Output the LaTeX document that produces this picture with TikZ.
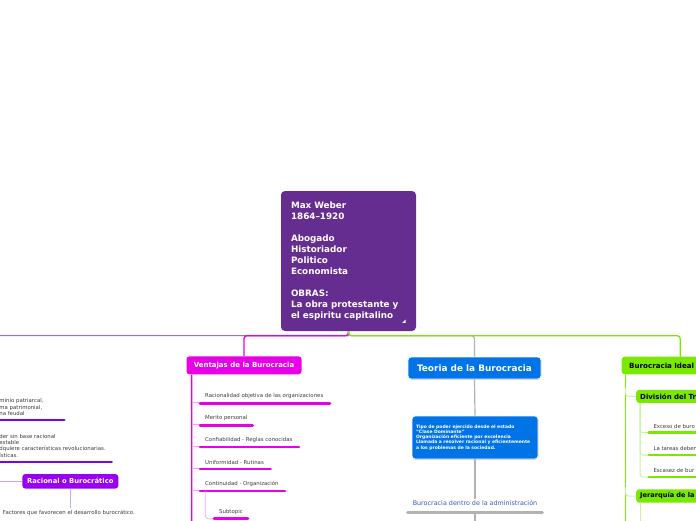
\documentclass[tikz,border=0pt]{standalone}
\usepackage{fontspec}
\setmainfont{DejaVu Sans}
\usetikzlibrary{calc,shadows}
\definecolor{wpurple}{RGB}{102,45,145}
\definecolor{wmag}{RGB}{232,0,232}
\definecolor{wmaglight}{RGB}{245,160,245}
\definecolor{wblue}{RGB}{0,115,230}
\definecolor{wgray}{RGB}{178,178,178}
\definecolor{wgreen}{RGB}{122,232,0}
\definecolor{wgreenlight}{RGB}{200,245,160}
\definecolor{wviolet}{RGB}{122,0,255}
\definecolor{wviobox}{RGB}{153,0,240}
\definecolor{wviolight}{RGB}{200,168,240}
\definecolor{wleft}{RGB}{160,112,200}
\definecolor{txtgray}{RGB}{60,60,60}
\definecolor{linkblue}{RGB}{51,85,204}
\tikzset{
  mainbox/.style={fill=wpurple, rounded corners=4pt, text=white,
    font=\bfseries\fontsize{8.8}{11}\selectfont, align=left, inner sep=0pt,
    minimum width=135pt, minimum height=140pt, text width=115pt},
  topicbox/.style={rounded corners=3pt, inner sep=0pt, font=\bfseries\fontsize{7}{8}\selectfont},
  item/.style={anchor=west, inner sep=0pt, text=txtgray, font=\fontsize{5.4}{6.5}\selectfont},
  magline/.style={draw=wmag, line width=1.3pt},
  magthin/.style={draw=wmaglight, line width=0.8pt},
  magbar/.style={draw=wmag, line width=2.6pt, line cap=round},
  grayline/.style={draw=wgray, line width=1.2pt},
  greenline/.style={draw=wgreen, line width=1.3pt},
  greenthin/.style={draw=wgreenlight, line width=1pt},
  greenbar/.style={draw=wgreen, line width=2.6pt, line cap=round},
  viobar/.style={draw=wviolet, line width=2.6pt, line cap=round},
}
\begin{document}
\begin{tikzpicture}[x=1pt,y=-1pt]
\useasboundingbox (0,0) rectangle (696,520);
\clip (0,0) rectangle (696,520);

% ---------------- central node
\node[mainbox] (weber) at (348.5,261) {Max Weber\\1864–1920\\[11pt]Abogado\\Historiador\\Politico\\Economista\\[11pt]OBRAS:\\La obra protestante y\\el espiritu capitalino};
\fill[white] (405.5,319.5) -- (405.5,322.8) -- (402.2,322.8) -- cycle;

% ---------------- main topic nodes
\node[topicbox, fill=wmag, text=white, minimum width=115pt, minimum height=18pt] (ventajas) at (244,365.3) {Ventajas de la Burocracia};
\node[topicbox, fill=wblue, text=white, draw=white, line width=0.8pt, minimum width=133pt, minimum height=22pt,
  font=\bfseries\fontsize{8.9}{10}\selectfont, drop shadow={shadow xshift=0.4pt, shadow yshift=-0.9pt, opacity=0.35}] (teoria) at (474.5,368) {Teoria de la Burocracia};
\node[topicbox, fill=wgreen, text=black, anchor=west, text width=102pt, inner xsep=7.5pt, align=left, minimum height=17.6pt,
  font=\bfseries\fontsize{7.1}{8.5}\selectfont] (ideal) at (621.5,365.5) {Burocracia Ideal};
\coordinate (leftend) at (-5,335.5);

% ---------------- top connectors
\draw[draw=wleft, line width=1.2pt] (weber.south) -- ++(0,4.5) -- (leftend);
\draw[grayline, rounded corners=3pt] (weber.south) -- ++(0,4.5) -| (teoria.north);
\draw[magline, rounded corners=3pt] (weber.south) -- ++(0,4.5) -| (ventajas.north);
\draw[greenline, rounded corners=3pt] (weber.south) -- ++(0,4.5) -| (ideal.north);

% ---------------- Ventajas branch
\coordinate (vbot) at (191.8,525);
\draw[magline] ([xshift=5.3pt]ventajas.south west) -- (vbot);
\node[item] (v1) at (205,396) {Racionalidad objetiva de las organizaciones};
\node[item] (v2) at (205,418) {Merito personal};
\node[item] (v3) at (205,440) {Confiabilidad - Reglas conocidas};
\node[item] (v4) at (205,462) {Uniformidad - Rutinas};
\node[item] (v5) at (205,484) {Continuidad - Organización};
\node[item] (v6) at (219,512) {Subtopic};
\foreach \yy/\xe in {403.3/330, 425.3/252.7, 447/299, 469/270.7, 491/285}{
  \draw[magthin] (191.8,\yy-0.8) -- (200,\yy-0.8);
  \draw[magbar] (200,\yy) -- (\xe,\yy);
}
\draw[magthin, rounded corners=3pt] (205.3,491) |- (214,518.7);
\draw[magbar] (214,518.7) -- (248,518.7);

% ---------------- Teoria branch
\node[fill=wblue, draw=white, line width=0.8pt, rounded corners=3pt, text=white, inner sep=0pt,
  minimum width=126pt, minimum height=43pt, text width=118pt, align=left,
  font=\bfseries\fontsize{4.5}{5.2}\selectfont,
  drop shadow={shadow xshift=0.4pt, shadow yshift=-0.9pt, opacity=0.35}] (tipo) at (475,437.5)
  {Tipo de poder ejercido desde el estado\\“Clase Dominante”\\Organización eficiente por excelencia\\Llamada a resolver racional y eficientemente\\a los problemas de la sociedad.};
\node[inner sep=1pt, text=linkblue, font=\fontsize{6.4}{7.5}\selectfont] (buro) at (475,503) {Burocracia dentro de la administración};
\coordinate (tbot) at (475,525);
\draw[grayline] (teoria.south) -- (tipo.north);
\draw[grayline] (tipo.south) -- (buro.north);
\draw[draw=wgray, line width=2.8pt, line cap=round] (407.5,512.7) -- (542.5,512.7);
\draw[grayline] (475,512.7) -- (tbot);

% ---------------- Burocracia Ideal branch
\node[topicbox, fill=wgreen, text=black, anchor=west, text width=80pt, inner xsep=4pt, align=left, minimum height=13pt] (division) at (636,396.4) {División del Tr};
\node[topicbox, fill=wgreen, text=black, anchor=west, text width=80pt, inner xsep=4pt, align=left, minimum height=13.4pt,
  font=\bfseries\fontsize{6.6}{8}\selectfont] (jerarquia) at (636,496) {Jerarquía de la};
\coordinate (gbot) at (625.5,525);
\draw[greenline] ([xshift=4pt]ideal.south west) -- (gbot);
\draw[greenthin, rounded corners=3pt] (625.5,388) |- (division.west);
\draw[greenthin, rounded corners=3pt] (625.5,487) |- (jerarquia.west);
\foreach \yy in {432.7,455,477}{
  \draw[greenthin, rounded corners=3pt] ([xshift=4pt]division.south west) |- (648.7,\yy);
  \draw[greenbar] (648.7,\yy) -- (705,\yy);
}
\node[item] (d1) at (653.3,426.7) {Exceso de buro};
\node[item] (d2) at (653.3,448.3) {La tareas deben};
\node[item] (d3) at (653.3,470.3) {Escasez de bur};
\draw[greenthin] ([xshift=4pt]jerarquia.south west) -- (640,525);

% ---------------- Left branch
\node[item, align=left, font=\fontsize{5.4}{6.5}\selectfont] (l1) at (-0.8,407.3) {minio patriarcal,\\ma patrimonial,\\na feudal};
\node[item, align=left, font=\fontsize{5.4}{6.45}\selectfont] (l2) at (-0.8,445.7) {der sin base racional\\estable\\dquiere características revolucionarias.\\ísticas.};
\draw[viobar] (-5,420) -- (64.3,420);
\draw[viobar] (-5,462) -- (111.7,462);
\node[topicbox, fill=wviobox, text=white, minimum width=96pt, minimum height=14.5pt, font=\bfseries\fontsize{6.8}{8}\selectfont] (racional) at (70.3,481.3) {Racional o Burocrático};
\coordinate (rleft) at (-5,481.3);
\draw[draw=wviolight, line width=1pt] (rleft) -- (racional.west);
\node[item] (factores) at (2.7,513.3) {Factores que favorecen el desarrollo burocrático.};
\draw[draw=wviolight, line width=1pt] (racional.south) -- (70.3,507.7);
\end{tikzpicture}
\end{document}
